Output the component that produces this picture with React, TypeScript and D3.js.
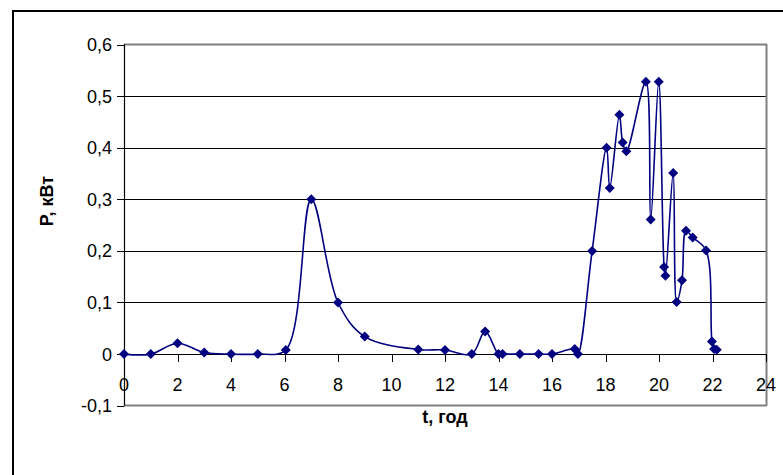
import React from "react";
import * as d3 from "d3";

const hours = [0, 1, 2, 3, 4, 5, 6.05, 7, 8, 9, 11, 12, 13, 13.5, 14.0, 14.15, 14.8, 15.5, 16, 16.85, 16.97,
  17.5, 18.04, 18.16, 18.52, 18.64, 18.78, 19.51, 19.69, 19.99, 20.19, 20.24, 20.53, 20.66, 20.86, 21.01, 21.26, 21.76, 21.98, 22.06, 22.16];
const power = [0, 0, 0.021, 0.003, 0, 0, 0.008, 0.3, 0.1, 0.034, 0.009, 0.008, 0, 0.044, 0, 0, 0, 0, 0, 0.01, 0,
  0.2, 0.4, 0.322, 0.464, 0.41, 0.393, 0.528, 0.261, 0.528, 0.169, 0.152, 0.351, 0.101, 0.143, 0.239, 0.226, 0.201, 0.0245, 0.0097, 0.0084];
const xTicks = [0, 2, 4, 6, 8, 10, 12, 14, 16, 18, 20, 22, 24];
const yTicks = [-0.1, 0, 0.1, 0.2, 0.3, 0.4, 0.5, 0.6];

export default function App() {
  const x = d3.scaleLinear().domain([0, 24]).range([124, 766]);
  const y = d3.scaleLinear().domain([-0.1, 0.6]).range([405.7, 44.5]);
  const pts: [number, number][] = hours.map((h, i) => [x(h), y(power[i])]);
  const line = d3.line().curve(d3.curveCatmullRom.alpha(0.5))(pts) || "";
  const fmt = (v: number) => (Math.abs(v) < 1e-9 ? "0" : v.toFixed(1).replace(".", ","));
  const font = "Arial, 'Liberation Sans', sans-serif";
  const fs = 18;
  return (
    <svg width={783} height={475} style={{ position: "absolute", left: 0, top: 0 }} fontFamily={font}>
      <rect x={0} y={0} width={783} height={475} fill="#fff" />
      <rect x={13} y={11} width={775} height={470} fill="none" stroke="#000" strokeWidth={2} />
      {yTicks.filter((v) => v > 0 && v < 0.6).map((v) => (
        <line key={"g" + v} x1={124} x2={766} y1={Math.round(y(v)) + 0.5} y2={Math.round(y(v)) + 0.5} stroke="#000" strokeWidth={1} />
      ))}
      <line x1={124} x2={767} y1={44.5} y2={44.5} stroke="#808080" strokeWidth={2} />
      <line x1={766.5} x2={766.5} y1={44} y2={406} stroke="#808080" strokeWidth={2} />
      <line x1={124} x2={767} y1={405.5} y2={405.5} stroke="#808080" strokeWidth={2} />
      <line x1={124.5} x2={124.5} y1={44} y2={406} stroke="#000" strokeWidth={1.2} />
      {yTicks.map((v) => (
        <g key={"y" + v}>
          <line x1={117} x2={124} y1={Math.round(y(v)) + 0.5} y2={Math.round(y(v)) + 0.5} stroke="#000" />
          <text x={112} y={y(v)} dy="0.36em" textAnchor="end" fontSize={fs}>{fmt(v)}</text>
        </g>
      ))}
      <line x1={124} x2={766} y1={Math.round(y(0)) + 0.5} y2={Math.round(y(0)) + 0.5} stroke="#000" strokeWidth={1.2} />
      {xTicks.map((t) => (
        <g key={"x" + t}>
          <line x1={Math.round(x(t)) + 0.5} x2={Math.round(x(t)) + 0.5} y1={354} y2={362} stroke="#000" />
          <text x={x(t)} y={385} dy="0.36em" textAnchor="middle" fontSize={fs}>{t}</text>
        </g>
      ))}
      <path d={line} fill="none" stroke="#000080" strokeWidth={1.6} />
      {pts.map(([px, py], i) => (
        <path key={"m" + i} d={`M${px},${py - 5}L${px + 5},${py}L${px},${py + 5}L${px - 5},${py}Z`} fill="#000080" />
      ))}
      <text x={445} y={417} dy="0.36em" textAnchor="middle" fontSize={fs} fontWeight="bold">t, год</text>
      <text transform={`translate(47,201) rotate(-90)`} dy="0.36em" textAnchor="middle" fontSize={fs} fontWeight="bold">P, кВт</text>
    </svg>
  );
}
